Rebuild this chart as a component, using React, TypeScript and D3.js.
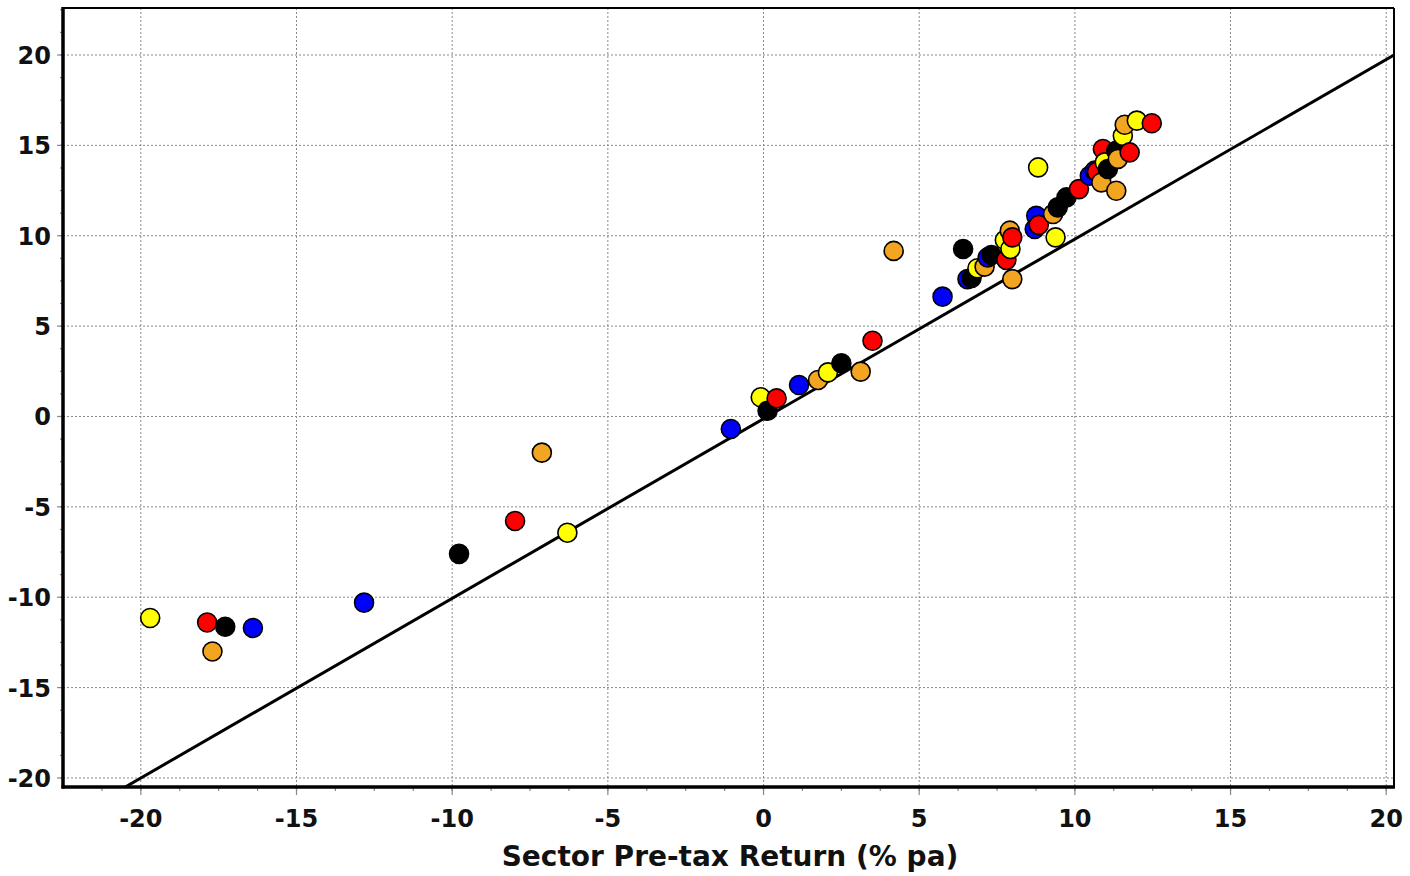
import React from 'react';
import * as d3 from 'd3';

// series, [x, y] in % pa
const yellowPts: [number, number][] = [
  [-19.7, -11.15], [-6.3, -6.43], [-0.09, 1.06], [2.07, 2.44], [6.87, 8.2], [7.75, 9.76],
  [7.93, 9.27], [9.38, 9.91], [8.82, 13.78], [10.96, 14.06], [11.54, 15.53], [11.99, 16.37],
];
const redPts: [number, number][] = [
  [-17.87, -11.4], [-7.98, -5.78], [0.42, 1.0], [3.5, 4.19], [7.8, 8.66], [7.99, 9.91],
  [8.84, 10.6], [10.13, 12.58], [10.71, 13.54], [10.9, 14.8], [11.76, 14.61], [12.47, 16.22],
];
const blackPts: [number, number][] = [
  [-17.29, -11.63], [-9.78, -7.6], [0.13, 0.32], [2.5, 2.94], [6.41, 9.27], [6.68, 7.66],
  [7.32, 8.93], [9.45, 11.57], [9.73, 12.12], [11.06, 13.69], [11.33, 14.7],
];
const bluePts: [number, number][] = [
  [-16.4, -11.7], [-12.83, -10.3], [-1.05, -0.69], [1.14, 1.74], [5.75, 6.63], [6.55, 7.6],
  [7.2, 8.8], [8.76, 11.1], [8.71, 10.37], [10.48, 13.32], [10.64, 13.6],
];
const orangePts: [number, number][] = [
  [-17.7, -13.0], [-7.12, -2.0], [1.75, 2.02], [3.12, 2.48], [4.18, 9.16], [7.1, 8.29],
  [7.91, 10.28], [7.99, 7.6], [9.3, 11.2], [10.85, 12.95], [11.33, 12.49], [11.38, 14.25], [11.6, 16.14],
];

const seriesColors = ['#FFFF00', '#FF0000', '#000000', '#0000FF', '#F2A521'];
const allSeries = [yellowPts, redPts, blackPts, bluePts, orangePts];

const majorTicks = [-20, -15, -10, -5, 0, 5, 10, 15, 20];
const xLabel = 'Sector Pre-tax Return (% pa)';

// reference line endpoints
const lineFrom: [number, number] = [-20.5, -20.5];
const lineTo: [number, number] = [20.25, 20.0];

const W = 1410, H = 876;
const left = 63, right = 1394, top = 8, bottom = 787;

export default function App() {
  const x = d3.scaleLinear().domain([-22.5, 20.25]).range([left, right]);
  const y = d3.scaleLinear().domain([-20.5, 22.6]).range([bottom, top]);

  const xMinor = d3.range(-21.25, 20.3, 1.25);
  const yMinor = d3.range(-20, 22.6, 1.25);

  // draw left to right so later points sit on top
  const points = allSeries
    .flatMap((s, i) => s.map(p => ({ px: p[0], py: p[1], c: seriesColors[i] })))
    .sort((a, b) => a.px - b.px);

  return (
    <svg width={W} height={H} style={{ position: 'absolute', left: 0, top: 0 }}
      fontFamily="'DejaVu Sans', sans-serif" fontWeight="bold">
      <rect width={W} height={H} fill="#fff" />
      <defs>
        <clipPath id="plot">
          <rect x={left} y={top} width={right - left} height={bottom - top} />
        </clipPath>
      </defs>

      {/* grid */}
      {majorTicks.map(t => (
        <line key={'gx' + t} x1={x(t)} x2={x(t)} y1={top} y2={bottom}
          stroke="#8a8a8a" strokeWidth={1} strokeDasharray="2,2" />
      ))}
      {majorTicks.map(t => (
        <line key={'gy' + t} x1={left} x2={right} y1={y(t)} y2={y(t)}
          stroke="#8a8a8a" strokeWidth={1} strokeDasharray="2,2" />
      ))}

      {/* ticks */}
      {xMinor.map(t => (
        <line key={'mx' + t} x1={x(t)} x2={x(t)} y1={bottom} y2={bottom + 4} stroke="#888" strokeWidth={1.2} />
      ))}
      {yMinor.map(t => (
        <line key={'my' + t} x1={left - 3} x2={left} y1={y(t)} y2={y(t)} stroke="#888" strokeWidth={1.2} />
      ))}
      {majorTicks.map(t => (
        <line key={'tx' + t} x1={x(t)} x2={x(t)} y1={bottom} y2={bottom + 8} stroke="#888" strokeWidth={1.2} />
      ))}
      {majorTicks.map(t => (
        <line key={'ty' + t} x1={left - 6} x2={left} y1={y(t)} y2={y(t)} stroke="#888" strokeWidth={1.2} />
      ))}

      {/* y = x reference line */}
      <line clipPath="url(#plot)" x1={x(lineFrom[0])} y1={y(lineFrom[1])} x2={x(lineTo[0])} y2={y(lineTo[1])}
        stroke="#000" strokeWidth={3} />

      {/* points */}
      <g clipPath="url(#plot)">
        {points.map((p, i) => (
          <circle key={i} cx={x(p.px)} cy={y(p.py)} r={9.5} fill={p.c} stroke="#000" strokeWidth={1.6} />
        ))}
      </g>

      {/* frame */}
      <line x1={left} x2={right} y1={top} y2={top} stroke="#000" strokeWidth={2} />
      <line x1={right} x2={right} y1={top} y2={bottom} stroke="#000" strokeWidth={2} />
      <line x1={left} x2={left} y1={top - 1} y2={bottom + 1.5} stroke="#000" strokeWidth={3.5} />
      <line x1={left - 1.5} x2={right + 1} y1={bottom} y2={bottom} stroke="#000" strokeWidth={3.5} />

      {/* tick labels */}
      {majorTicks.map(t => (
        <text key={'lx' + t} x={x(t)} y={827} textAnchor="middle" fontSize={24} fill="#111">{t}</text>
      ))}
      {majorTicks.map(t => (
        <text key={'ly' + t} x={51} y={y(t) + 9} textAnchor="end" fontSize={24} fill="#111">{t}</text>
      ))}

      <text x={(503 + 957) / 2} y={866} textAnchor="middle" fontSize={28} fill="#111">{xLabel}</text>
    </svg>
  );
}
